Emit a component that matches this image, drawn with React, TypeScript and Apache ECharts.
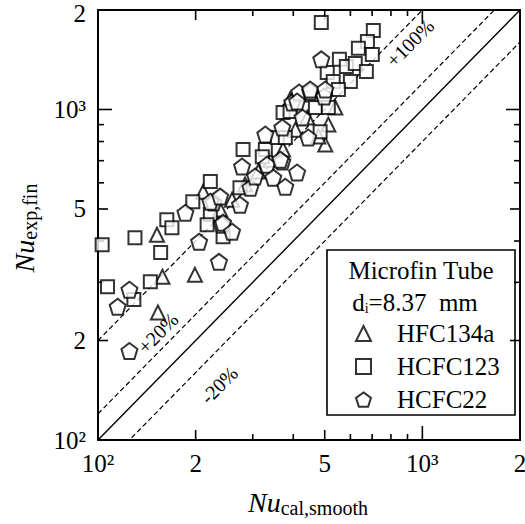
import React, { useEffect, useRef } from 'react';
import * as echarts from 'echarts';

const FONT = 'Liberation Serif';
const AX_MIN = 100;
const AX_MAX = 2000;

// [Nu_cal,smooth, Nu_exp,fin]
const hfc134a: number[][] = [
  [152, 418], [158, 312], [199, 316], [153, 243], [211, 564], [502, 783], [539, 1014],
  [478, 828], [513, 900], [442, 945], [406, 869], [372, 757], [340, 705], [312, 649],
  [284, 593], [259, 533], [238, 498], [457, 1110], [391, 1072],
];
const hcfc123: number[][] = [
  [103, 390], [107, 291], [130, 409], [129, 266], [145, 301], [156, 369], [163, 464],
  [169, 439], [196, 526], [222, 605], [222, 481], [217, 448], [243, 412], [274, 580],
  [280, 757], [328, 757], [321, 720], [372, 979], [391, 986], [357, 823], [378, 823],
  [468, 1014], [513, 1014], [484, 857], [509, 1295], [488, 1834], [706, 1735], [677, 1607],
  [635, 1531], [701, 1468], [555, 1418], [583, 1350], [621, 1378], [672, 1304], [600, 1216],
  [531, 1216], [551, 1150],
];
const hcfc22: number[][] = [
  [115, 253], [125, 285], [125, 186], [186, 487], [227, 523], [205, 398], [236, 346],
  [241, 448], [222, 526], [238, 545], [278, 672], [274, 515], [243, 454], [295, 580],
  [305, 627], [332, 681], [347, 622], [370, 696], [378, 584], [411, 645], [365, 705],
  [328, 840], [370, 882], [427, 945], [397, 1050], [417, 1126], [451, 1134], [498, 1095],
  [411, 1057], [445, 823], [488, 1418], [451, 1150], [502, 1150], [259, 427],
];

const tickValues = [200, 300, 400, 500, 600, 700, 800, 900, 1000];
const tickLengths = [10, 6, 6, 10, 6, 6, 6, 6, 14];
const labelValues = [100, 200, 500, 1000, 2000];
const labelTexts = ['10²', '2', '5', '10³', '2'];

// reference lines y = f * x
const refFactors = [1, 2, 1.2, 0.8];

const PENTAGON = 'path://M50,0 L97.55,34.55 L79.39,90.45 L20.61,90.45 L2.45,34.55 Z';

function buildOption(): any {
  const markerStyle = { color: '#fff', borderColor: '#000', borderWidth: 2 };

  const refSeries = refFactors.map((f) => ({
    type: 'line',
    data: [[AX_MIN, AX_MIN * f], [AX_MAX, AX_MAX * f]],
    symbol: 'none',
    clip: true,
    silent: true,
    z: 1,
    lineStyle: { color: '#000', width: f === 1 ? 1.4 : 1.2, type: f === 1 ? 'solid' : [5, 3] },
  }));

  const tickLine = (x1: number, y1: number, x2: number, y2: number) => ({
    type: 'line',
    shape: { x1, y1, x2, y2 },
    style: { stroke: '#000', lineWidth: 1.6 },
  });

  const xTicks = {
    type: 'custom',
    clip: false,
    silent: true,
    z: 3,
    data: tickValues.map((v) => [v, AX_MIN]),
    renderItem: (params: any, api: any) => {
      const v = api.value(0);
      const L = tickLengths[params.dataIndex];
      const b = api.coord([v, AX_MIN]);
      const t = api.coord([v, AX_MAX]);
      return {
        type: 'group',
        children: [tickLine(b[0], b[1], b[0], b[1] - L), tickLine(t[0], t[1], t[0], t[1] + L)],
      };
    },
  };
  const yTicks = {
    type: 'custom',
    clip: false,
    silent: true,
    z: 3,
    data: tickValues.map((v) => [AX_MIN, v]),
    renderItem: (params: any, api: any) => {
      const v = api.value(1);
      const L = tickLengths[params.dataIndex];
      const l = api.coord([AX_MIN, v]);
      const r = api.coord([AX_MAX, v]);
      return {
        type: 'group',
        children: [tickLine(l[0], l[1], l[0] + L, l[1]), tickLine(r[0], r[1], r[0] - L, r[1])],
      };
    },
  };
  const xLabels = {
    type: 'custom',
    clip: false,
    silent: true,
    z: 3,
    data: labelValues.map((v) => [v, AX_MIN]),
    renderItem: (params: any, api: any) => {
      const b = api.coord([api.value(0), AX_MIN]);
      return {
        type: 'text',
        x: b[0],
        y: b[1] + 11,
        style: {
          text: labelTexts[params.dataIndex],
          fill: '#000',
          fontFamily: FONT,
          fontSize: 25,
          align: 'center',
          verticalAlign: 'top',
        },
      };
    },
  };
  const yLabels = {
    type: 'custom',
    clip: false,
    silent: true,
    z: 3,
    data: labelValues.map((v) => [AX_MIN, v]),
    renderItem: (params: any, api: any) => {
      const v = api.value(1);
      const l = api.coord([AX_MIN, v]);
      const isTop = v >= AX_MAX;
      return {
        type: 'text',
        x: l[0] - 12,
        y: isTop ? l[1] - 9 : l[1],
        style: {
          text: labelTexts[params.dataIndex],
          fill: '#000',
          fontFamily: FONT,
          fontSize: 25,
          align: 'right',
          verticalAlign: isTop ? 'top' : 'middle',
        },
      };
    },
  };

  const axisCommon = {
    type: 'log',
    logBase: 10,
    min: AX_MIN,
    max: AX_MAX,
    axisLine: { show: true, onZero: false, lineStyle: { color: '#000', width: 2 } },
    axisTick: { show: false },
    axisLabel: { show: false },
    splitLine: { show: false },
    minorTick: { show: false },
    minorSplitLine: { show: false },
  };

  const richTitle = {
    a: { fontFamily: FONT, fontStyle: 'italic', fontSize: 28, fill: '#000', lineHeight: 32 },
    b: { fontFamily: FONT, fontSize: 20, fill: '#000', verticalAlign: 'bottom', lineHeight: 22 },
  };

  const plainText = (x: number, y: number, text: string, size: number, rotation = 0) => ({
    type: 'text',
    z: 8,
    x,
    y,
    rotation,
    style: {
      text,
      fontFamily: FONT,
      fontSize: size,
      fill: '#000',
      align: 'center',
      verticalAlign: 'middle',
    },
  });

  return {
    animation: false,
    backgroundColor: '#fff',
    textStyle: { fontFamily: FONT },
    grid: {
      left: 98,
      top: 10,
      width: 422,
      height: 430,
      show: true,
      borderColor: '#000',
      borderWidth: 2,
      backgroundColor: 'transparent',
      containLabel: false,
    },
    xAxis: { ...axisCommon },
    yAxis: { ...axisCommon },
    legend: {
      orient: 'vertical',
      left: 355,
      top: 321,
      padding: 0,
      itemWidth: 15,
      itemHeight: 15,
      itemGap: 8,
      selectedMode: false,
      z: 10,
      data: ['HFC134a', 'HCFC123', 'HCFC22'],
      textStyle: {
        fontFamily: FONT,
        fontSize: 25,
        color: '#000',
        lineHeight: 24,
        padding: [0, 0, 0, 21],
      },
    },
    series: [
      ...refSeries,
      {
        name: 'HFC134a',
        type: 'scatter',
        symbol: 'triangle',
        symbolSize: 14,
        data: hfc134a,
        itemStyle: markerStyle,
        z: 4,
      },
      {
        name: 'HCFC123',
        type: 'scatter',
        symbol: 'rect',
        symbolSize: 13,
        data: hcfc123,
        itemStyle: markerStyle,
        z: 5,
      },
      {
        name: 'HCFC22',
        type: 'scatter',
        symbol: PENTAGON,
        symbolSize: 16,
        data: hcfc22,
        itemStyle: markerStyle,
        z: 6,
      },
      xTicks,
      yTicks,
      xLabels,
      yLabels,
    ],
    graphic: {
      elements: [
        {
          type: 'rect',
          z: 1,
          shape: { x: 327, y: 250, width: 188, height: 165 },
          style: { fill: '#fff', stroke: '#000', lineWidth: 1.6 },
        },
        plainText(421, 270, 'Microfin Tube', 25),
        {
          type: 'text',
          z: 8,
          x: 415,
          y: 302,
          style: {
            text: '{a|d}{b|i}{a|=8.37  mm}',
            align: 'center',
            verticalAlign: 'middle',
            rich: {
              a: { fontFamily: FONT, fontSize: 25, fill: '#000', lineHeight: 26 },
              b: { fontFamily: FONT, fontSize: 14, fill: '#000', verticalAlign: 'bottom', lineHeight: 14 },
            },
          },
        },
        {
          type: 'text',
          z: 8,
          x: 308,
          y: 502,
          style: {
            text: '{a|Nu}{b|cal,smooth}',
            align: 'center',
            verticalAlign: 'middle',
            rich: richTitle,
          },
        },
        {
          type: 'text',
          z: 8,
          x: 24,
          y: 228,
          rotation: Math.PI / 2,
          style: {
            text: '{a|Nu}{b|exp,fin}',
            align: 'center',
            verticalAlign: 'middle',
            rich: richTitle,
          },
        },
        plainText(410, 43, '+100%', 20, 0.79),
        plainText(158, 333, '+20%', 20, 0.79),
        plainText(219, 385, '-20%', 20, 0.79),
      ],
    },
  };
}

export default function App() {
  const ref = useRef<HTMLDivElement>(null);
  useEffect(() => {
    if (!ref.current) return;
    const chart = echarts.init(ref.current, null, { renderer: 'svg' });
    chart.setOption(buildOption());
    return () => chart.dispose();
  }, []);
  return (
    <div
      ref={ref}
      style={{ position: 'fixed', left: 0, top: 0, width: 525, height: 524, background: '#fff' }}
    />
  );
}
